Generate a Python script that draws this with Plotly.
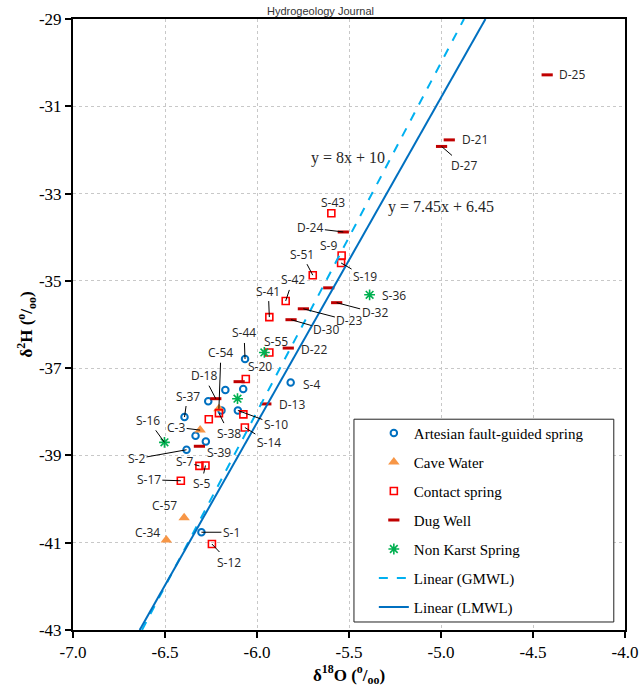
import plotly.graph_objects as go

# ---------------- data ----------------
art_x = [-6.065, -5.817, -6.172, -6.075, -6.265, -6.193, -6.104, -6.394, -6.334, -6.278, -6.383, -6.302]
art_y = [-36.79, -37.33, -37.50, -37.48, -37.76, -37.97, -37.97, -38.12, -38.55, -38.68, -38.87, -40.76]
art_lbl = ["S-44", "S-4", "", "", "", "", "S-10", "S-37", "", "S-39", "S-2", "S-1"]

cave_x = [-6.207, -6.309, -6.396, -6.493]
cave_y = [-37.93, -38.42, -40.43, -40.94]
cave_lbl = ["C-54", "C-3", "C-57", "C-34"]

cont_x = [-5.933, -6.061, -6.262, -6.207, -6.074, -6.066, -6.313, -6.280, -6.414, -6.245,
          -5.596, -5.540, -5.543, -5.697, -5.844, -5.933]
cont_y = [-36.64, -37.25, -38.17, -38.03, -38.06, -38.36, -39.24, -39.23, -39.58, -41.03,
          -33.45, -34.42, -34.59, -34.87, -35.46, -35.83]
cont_lbl = ["S-55", "S-20", "", "S-38", "", "S-14", "S-7", "S-5", "S-17", "S-12",
            "S-43", "S-9", "S-19", "S-51", "S-42", "S-41"]

dug_x = [-5.531, -5.610, -5.567, -5.748, -5.815, -5.830, -6.097, -6.224, -5.952, -6.313,
         -4.423, -4.955, -4.997]
dug_y = [-33.88, -35.16, -35.50, -35.64, -35.89, -36.54, -37.31, -37.70, -37.82, -38.79,
         -30.28, -31.77, -31.92]
dug_lbl = ["D-24", "", "D-32", "D-23", "D-30", "D-22", "", "D-18", "D-13", "",
           "D-25", "D-21", "D-27"]

nk_x = [-5.960, -6.106, -6.503, -5.388]
nk_y = [-36.64, -37.70, -38.70, -35.32]
nk_lbl = ["", "", "S-16", "S-36"]

# meteoric water lines: y = slope * x + intercept
gmwl_slope, gmwl_int = 8.0, 10.0
lmwl_slope, lmwl_int = 7.45, 6.45
line_y = [-43, -29]

x_ticks = [-7.0, -6.5, -6.0, -5.5, -5.0, -4.5, -4.0]
y_ticks = [-29, -31, -33, -35, -37, -39, -41, -43]

# ---------------- label placement (pixel offsets from the point) ----------------
# (dx, dy, leader) ; dy positive = downwards on screen
LABEL_POS = {
    "S-44": (-1, -26, True), "S-4": (21, 2, False), "S-10": (38, 14, True),
    "S-37": (3, -21, True), "S-39": (13, 11, False), "S-2": (-50, 9, True),
    "S-1": (30, 0, True),
    "C-54": (2, -56, True), "C-3": (-24, -3, True), "C-57": (-20, -12, False),
    "C-34": (-19, -8, False),
    "S-55": (7, -11, False), "S-20": (14, -13, False), "S-38": (10, 20, True),
    "S-14": (24, 15, True), "S-7": (-15, -4, True), "S-5": (-4, 18, True),
    "S-17": (-32, -1, True), "S-12": (17, 18, True), "S-43": (2, -11, False),
    "S-9": (-13, -10, False), "S-19": (24, 14, True), "S-51": (-11, -21, True),
    "S-42": (7, -21, True), "S-41": (-1, -26, True),
    "D-24": (-33, -4, True), "D-32": (38, 10, True), "D-23": (46, 12, True),
    "D-30": (35, 10, True), "D-22": (26, 1, False), "D-18": (-12, -23, True),
    "D-13": (26, 1, False), "D-25": (25, 0, False), "D-21": (26, 0, False),
    "D-27": (22, 19, True),
    "S-16": (-16, -22, True), "S-36": (24, 1, False),
}

SERIF = "Liberation Serif, Times New Roman, serif"
SANS = "Open Sans, sans-serif"

fig = go.Figure()

fig.add_trace(go.Scatter(
    x=art_x, y=art_y, mode="markers", name="Artesian fault-guided spring",
    legendgroup="a",
    marker=dict(symbol="circle-open", size=6.5, color="#0070C0",
                line=dict(color="#0070C0", width=2))))
fig.add_trace(go.Scatter(
    x=cave_x, y=cave_y, mode="markers", name="Cave Water", legendgroup="b",
    marker=dict(symbol="triangle-up", size=10, color="#F79646", line=dict(width=0))))
fig.add_trace(go.Scatter(
    x=cont_x, y=cont_y, mode="markers", name="Contact spring", legendgroup="c",
    marker=dict(symbol="square-open", size=7, color="#FF0000",
                line=dict(color="#FF0000", width=1.6))))
fig.add_trace(go.Scatter(
    x=dug_x, y=dug_y, mode="markers", name="Dug Well", legendgroup="d",
    marker=dict(symbol="line-ew", size=8, color="#C00000",
                line=dict(color="#C00000", width=3))))
fig.add_trace(go.Scatter(
    x=nk_x, y=nk_y, mode="markers", name="Non Karst Spring", legendgroup="e",
    marker=dict(symbol="asterisk-open", size=9, color="#00B050",
                line=dict(color="#00B050", width=1.6))))

gx = [(yy - gmwl_int) / gmwl_slope for yy in line_y]
lx = [(yy - lmwl_int) / lmwl_slope for yy in line_y]
fig.add_trace(go.Scatter(
    x=gx, y=line_y, mode="lines", name="Linear (GMWL)", legendgroup="f",
    line=dict(color="#00B0F0", width=2, dash="dash")))
fig.add_trace(go.Scatter(
    x=lx, y=line_y, mode="lines", name="Linear (LMWL)", legendgroup="g",
    line=dict(color="#0070C0", width=2)))

annotations = []
for xs, ys, ls in [(art_x, art_y, art_lbl), (cave_x, cave_y, cave_lbl),
                   (cont_x, cont_y, cont_lbl), (dug_x, dug_y, dug_lbl),
                   (nk_x, nk_y, nk_lbl)]:
    for xv, yv, lab in zip(xs, ys, ls):
        if not lab:
            continue
        dx, dy, leader = LABEL_POS[lab]
        base = dict(x=xv, y=yv, xref="x", yref="y", text=lab,
                    font=dict(family=SANS, size=12, color="#262626"))
        if leader:
            base.update(showarrow=True, ax=dx, ay=dy, arrowhead=0,
                        arrowwidth=1, arrowcolor="#000000", standoff=0,
                        startstandoff=0)
        else:
            base.update(showarrow=False, xshift=dx, yshift=-dy)
        annotations.append(base)

annotations.append(dict(x=-5.505, y=-32.18, xref="x", yref="y", showarrow=False,
                        text="y = 8x + 10", font=dict(family=SERIF, size=16, color="#262626")))
annotations.append(dict(x=-5.0, y=-33.30, xref="x", yref="y", showarrow=False,
                        text="y = 7.45x + 6.45", font=dict(family=SERIF, size=16, color="#262626")))
annotations.append(dict(x=0.4475, y=1.0136, xref="paper", yref="paper", showarrow=False,
                        text="Hydrogeology Journal", yanchor="middle",
                        font=dict(family="Liberation Sans, Arial, sans-serif", size=11, color="#333333")))

# legend frame (white box covering the grid, legend entries drawn on top)
shapes = [dict(type="rect", xref="paper", yref="paper", x0=0.509, x1=0.9797,
               y0=0.0131, y1=0.345, fillcolor="white",
               line=dict(color="#222222", width=1), layer="above")]

fig.update_layout(
    width=642, height=688,
    margin=dict(l=73, r=17, t=19, b=58),
    plot_bgcolor="white", paper_bgcolor="white",
    annotations=annotations,
    shapes=shapes,
    showlegend=True,
    legend=dict(x=0.545, y=0.349, xanchor="left", yanchor="top",
                bgcolor="rgba(0,0,0,0)", borderwidth=0,
                font=dict(family=SERIF, size=15, color="black"),
                itemwidth=30, tracegroupgap=6.5, traceorder="grouped"),
)
fig.update_xaxes(
    range=[-7, -4], tickvals=x_ticks, ticktext=[f"{v:.1f}" for v in x_ticks],
    showline=True, linecolor="black", linewidth=2, mirror=True,
    ticks="outside", ticklen=6, tickcolor="black", tickwidth=1.5,
    showgrid=True, gridcolor="#C8C8C8", griddash="dot", gridwidth=1,
    zeroline=False, automargin=False, ticklabeloverflow="allow",
    tickfont=dict(family=SERIF, size=17, color="black"),
    title=dict(text="<b>δ<sup>18</sup>O (<sup>o</sup>/<sub>oo</sub>)</b>",
               font=dict(family=SERIF, size=17, color="black"), standoff=2),
)
fig.update_yaxes(
    range=[-43, -29], tickvals=y_ticks, ticktext=[str(v) for v in y_ticks],
    showline=True, linecolor="black", linewidth=2, mirror=True,
    ticks="outside", ticklen=6, tickcolor="black", tickwidth=1.5,
    showgrid=True, gridcolor="#C8C8C8", griddash="dot", gridwidth=1,
    zeroline=False, automargin=False, ticklabeloverflow="allow",
    tickfont=dict(family=SERIF, size=17, color="black"),
    title=dict(text="<b>δ<sup>2</sup>H (<sup>o</sup>/<sub>oo</sub>)</b>",
               font=dict(family=SERIF, size=17, color="black"), standoff=2),
)

# remove the default 8px page margin so the figure fills the 642x688 window exactly
fig.write_html("out.html", config={"displayModeBar": False},
               post_script="document.body.style.margin='0px';document.body.style.overflow='hidden';")
